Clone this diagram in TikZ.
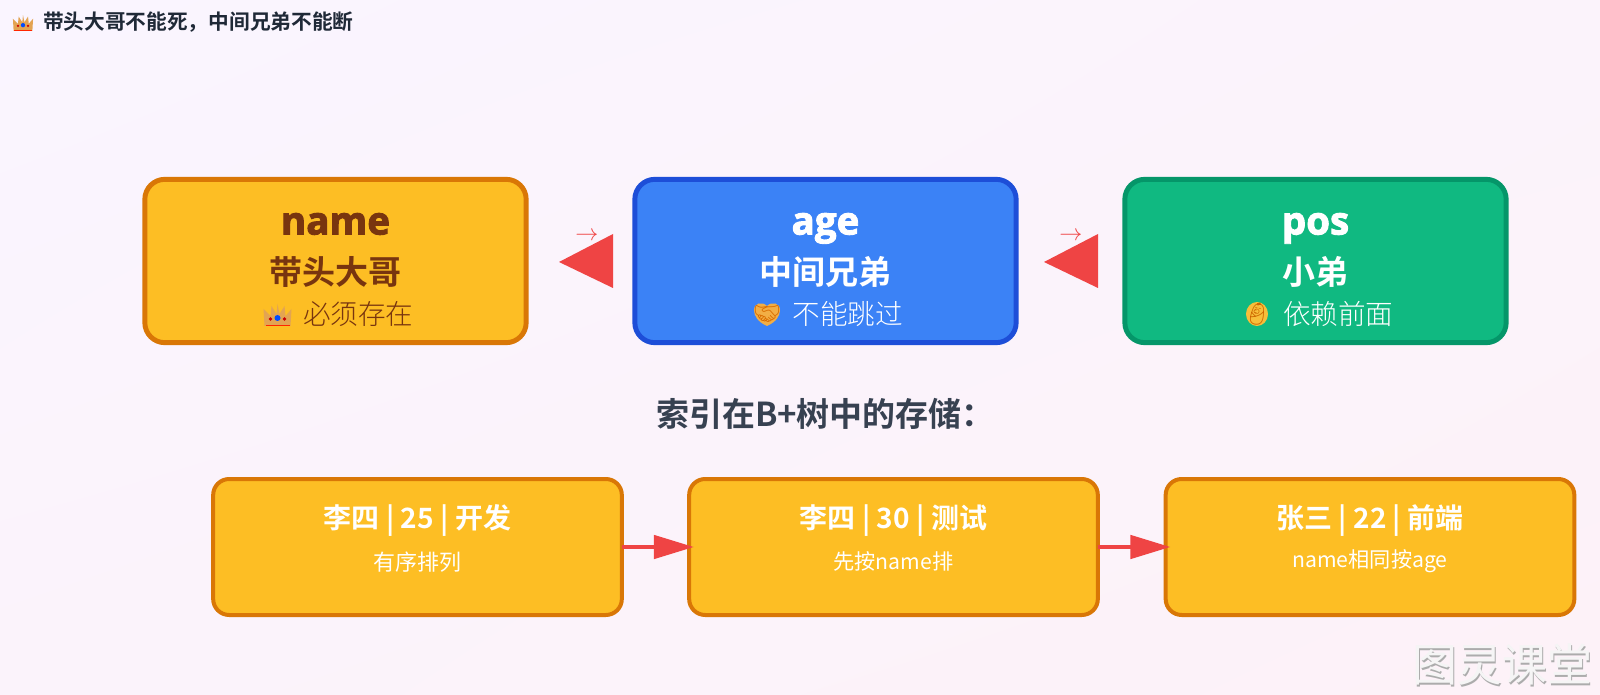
\documentclass[tikz,border=0pt]{standalone}
\usepackage{fontspec}
\setmainfont{Noto Sans CJK SC}[BoldFont={Noto Sans CJK SC Bold}]
\newfontfamily\blackfont{Open Sans}[BoldFeatures={FakeBold=2.4}]
\newfontfamily\lightfont{Noto Sans CJK SC Light}
\newfontfamily\emojifont{Noto Emoji}
\usetikzlibrary{arrows.meta,calc,shadings}
\definecolor{amberfill}{HTML}{FDBE24}
\definecolor{amberline}{HTML}{D97706}
\definecolor{amberink}{HTML}{78350F}
\definecolor{bluefill}{HTML}{3B82F6}
\definecolor{blueline}{HTML}{1D4ED8}
\definecolor{greenfill}{HTML}{10B981}
\definecolor{greenline}{HTML}{059669}
\definecolor{arrowred}{HTML}{EF4444}
\definecolor{headink}{HTML}{374151}
\definecolor{titleink}{HTML}{1F2937}
\definecolor{bgA}{HTML}{FAF5FF}
\definecolor{bgB}{HTML}{FDF2F8}
\definecolor{bgM}{HTML}{FBF3FB}
\definecolor{crownbody}{HTML}{E3A452}
\definecolor{handbody}{HTML}{F2AE45}
\definecolor{babybody}{HTML}{F7BE3A}
\newcommand{\fpx}[1]{\fontsize{\dimexpr #1pt*3/4\relax}{\dimexpr #1pt*9/10\relax}\selectfont}
\tikzset{
  x=0.75pt,y=-0.75pt,
  every node/.style={inner sep=0pt,outer sep=0pt},
  bigbox/.style={draw,line width=3.7pt,rounded corners=15pt,minimum width=286pt,minimum height=122.5pt},
  lowbox/.style={draw=amberline,fill=amberfill,line width=3pt,rounded corners=12pt,minimum width=306.5pt,minimum height=102pt},
  namelabel/.style={font=\blackfont\bfseries\fpx{38.5},anchor=base},
  rolelabel/.style={font=\bfseries\fpx{33}},
  notelabel/.style={font=\lightfont\fpx{27.6}},
  emojilabel/.style={font=\emojifont\fpx{24}},
  rowlabel/.style={font=\bfseries\fpx{28},text=white},
  sublabel/.style={font=\fpx{22},text=white},
  latinsub/.style={font=\fpx{21.2},text=white},
  bigtip/.style={fill=arrowred,draw=none},
  linkline/.style={draw=arrowred,line width=2.8pt,-{Triangle[length=30pt,width=17.5pt,fill=arrowred]},shorten >=-3.5pt},
  thinarrow/.style={text=arrowred,font=\fontsize{19pt}{19pt}\selectfont},
  pics/crownblob/.style={code={
    \fill[crownbody] (-13,11) -- (-14,-6) -- (-7,1) -- (-6,-9) -- (-1,-1) -- (0,-11) -- (2,-1) -- (7,-9) -- (8,1) -- (14,-6) -- (13,11) -- cycle;
    \fill[blue!70!cyan] (0,3) circle (3);
    \fill[red!80!black] (-7,4) circle (1.8) (7,4) circle (1.8);
    \fill[red!70!orange] (-12,10) rectangle (12,11);
  }},
}
\begin{document}
\begin{tikzpicture}
\useasboundingbox (0,0) rectangle (1600,695);
\shade[upper left=bgA,lower right=bgB,upper right=bgM,lower left=bgM] (0,0) rectangle (1600,695);

\pic[scale=.72] at (23,23) {crownblob};
\node[font=\bfseries\fpx{20.7},anchor=west,text=titleink] (title) at (43,22) {带头大哥不能死，中间兄弟不能断};

\node[bigbox,draw=amberline,fill=amberfill] (nameBox) at (335.5,261) {};
\node[bigbox,draw=blueline,fill=bluefill] (ageBox) at (825.5,261) {};
\node[bigbox,draw=greenline,fill=greenfill] (posBox) at (1315.5,261) {};

\node[namelabel,text=amberink] (nameT) at (335.5,234.5) {name};
\node[rolelabel,text=amberink] (nameR) at (335.5,272) {带头大哥};
\pic at (277.5,315) {crownblob};
\node[notelabel,text=amberink,anchor=west] (nameN) at (303,314) {必须存在};

\node[namelabel,text=white] (ageT) at (825.5,234.5) {age};
\node[rolelabel,text=white] (ageR) at (825.5,272) {中间兄弟};
\fill[handbody] (767,326) .. controls (758,322) and (754,316) .. (754,310) .. controls (754,303) and (762,301) .. (767,306) .. controls (772,301) and (780,303) .. (780,310) .. controls (780,316) and (776,322) .. (767,326) -- cycle;
\node[emojilabel,text=orange!85!black,font=\emojifont\fpx{22}] (ageE) at (767,314) {🤝};
\node[notelabel,text=white,anchor=west] (ageN) at (792.5,314) {不能跳过};

\node[namelabel,text=white] (posT) at (1315.5,234.5) {pos};
\node[rolelabel,text=white] (posR) at (1315.5,272) {小弟};
\fill[babybody] (1257,314) ellipse (11 and 12);
\node[emojilabel,text=orange!80!black,font=\emojifont\fpx{22}] (posE) at (1257,314) {👶};
\node[notelabel,text=white,anchor=west] (posN) at (1283,314) {依赖前面};

\coordinate (tipA) at (559,262);
\coordinate (tipB) at (1044,262);
\fill[bigtip] (tipA) -- ++(54,-28) -- ++(0,54) -- cycle;
\fill[bigtip] (tipB) -- ++(54,-28) -- ++(0,54) -- cycle;
\node[thinarrow] (smallA) at (587,236) {$\rightarrow$};
\node[thinarrow] (smallB) at (1071,236) {$\rightarrow$};

\node[anchor=west,font=\bfseries\fpx{33},text=headink] (heading) at (656,414) {索引在B+树中的存储：};

\node[lowbox] (rowA) at (417.5,547) {};
\node[lowbox] (rowB) at (893.5,547) {};
\node[lowbox] (rowC) at (1370,547) {};

\node[rowlabel] (rowAt) at (417.5,520.5) {李四 | 25 | 开发};
\node[sublabel] (rowAs) at (417.5,562) {有序排列};
\node[rowlabel] (rowBt) at (893.5,520.5) {李四 | 30 | 测试};
\node[latinsub] (rowBs) at (893.5,561) {先按name排};
\node[rowlabel] (rowCt) at (1370,520.5) {张三 | 22 | 前端};
\node[latinsub] (rowCs) at (1370,561) {name相同按age};

\draw[linkline] (rowA.east) -- (rowB.west);
\draw[linkline] (rowB.east) -- (rowC.west);

\node[anchor=east,font=\fpx{45},text=gray!65] (markS) at (1593.2,666.2) {图灵课堂};
\node[anchor=east,font=\fpx{45},text=white!92!gray] (mark) at (1592,665) {图灵课堂};
\end{tikzpicture}
\end{document}
